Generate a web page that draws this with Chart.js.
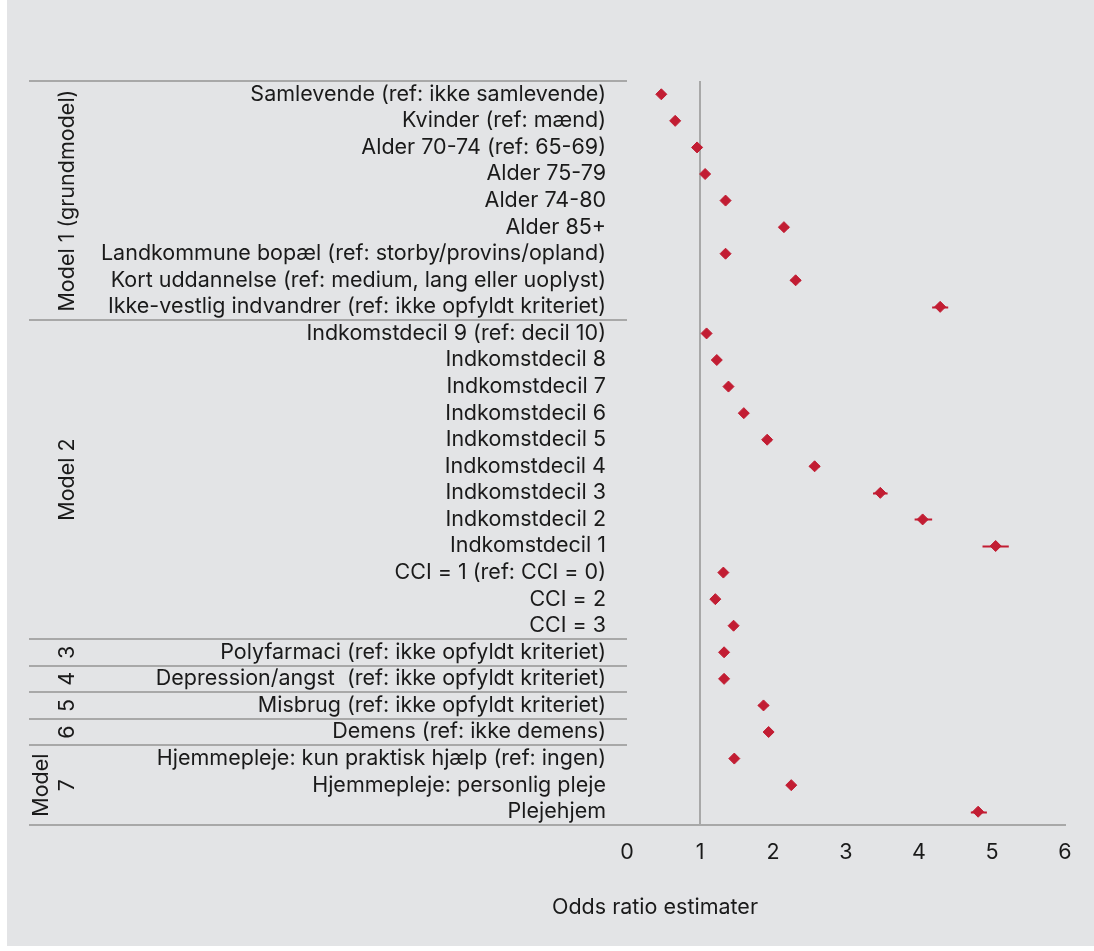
<!DOCTYPE html>
<html>
<head>
<meta charset="utf-8">
<script src="https://cdn.jsdelivr.net/npm/chart.js@4/dist/chart.umd.min.js"></script>
<style>
  html, body { margin: 0; padding: 0; background: #ffffff; }
  #wrap { position: absolute; left: 0; top: 0; width: 1094px; height: 951px; }
</style>
</head>
<body>
<div id="wrap"><canvas id="forest" width="1094" height="951"></canvas></div>
<script>
// Rows of the forest plot, top to bottom
const categories = [
  'Samlevende (ref: ikke samlevende)',
  'Kvinder (ref: mænd)',
  'Alder 70-74 (ref: 65-69)',
  'Alder 75-79',
  'Alder 74-80',
  'Alder 85+',
  'Landkommune bopæl (ref: storby/provins/opland)',
  'Kort uddannelse (ref: medium, lang eller uoplyst)',
  'Ikke-vestlig indvandrer (ref: ikke opfyldt kriteriet)',
  'Indkomstdecil 9 (ref: decil 10)',
  'Indkomstdecil 8',
  'Indkomstdecil 7',
  'Indkomstdecil 6',
  'Indkomstdecil 5',
  'Indkomstdecil 4',
  'Indkomstdecil 3',
  'Indkomstdecil 2',
  'Indkomstdecil 1',
  'CCI = 1 (ref: CCI = 0)',
  'CCI = 2',
  'CCI = 3',
  'Polyfarmaci (ref: ikke opfyldt kriteriet)',
  'Depression/angst  (ref: ikke opfyldt kriteriet)',
  'Misbrug (ref: ikke opfyldt kriteriet)',
  'Demens (ref: ikke demens)',
  'Hjemmepleje: kun praktisk hjælp (ref: ingen)',
  'Hjemmepleje: personlig pleje',
  'Plejehjem'
];

// Odds ratio estimates and 95% confidence limits
const estimates = [0.47, 0.66, 0.96, 1.07, 1.35, 2.15, 1.35, 2.31, 4.29,
                   1.09, 1.23, 1.39, 1.60, 1.92, 2.57, 3.47, 4.05, 5.05,
                   1.32, 1.21, 1.46, 1.33, 1.33, 1.87, 1.94, 1.47, 2.25, 4.81];
const lowerCI   = [0.44, 0.62, 0.89, 1.02, 1.30, 2.08, 1.30, 2.24, 4.18,
                   1.05, 1.18, 1.34, 1.55, 1.86, 2.50, 3.37, 3.94, 4.87,
                   1.28, 1.17, 1.41, 1.29, 1.28, 1.80, 1.88, 1.43, 2.19, 4.71];
const upperCI   = [0.50, 0.70, 1.03, 1.12, 1.40, 2.22, 1.40, 2.38, 4.40,
                   1.13, 1.28, 1.44, 1.65, 1.98, 2.64, 3.57, 4.18, 5.23,
                   1.36, 1.25, 1.51, 1.37, 1.38, 1.94, 2.00, 1.51, 2.31, 4.93];

// Model groupings shown at the left (first and last row index of each block)
const groupNames = [['Model 1 (grundmodel)'], ['Model 2'], ['3'], ['4'], ['5'], ['6'], ['Model', '7']];
const groupFirst = [0, 9, 21, 22, 23, 24, 25];
const groupLast  = [8, 20, 21, 22, 23, 24, 27];

const xTicks = [0, 1, 2, 3, 4, 5, 6];
const xTitle = 'Odds ratio estimater';

const FONT = 'Inter';
const SIZE = 21.5;
const TEXT = '#1a1a1a';
const RED = '#c21d33';
const RULE = '#a8a8a8';

const background = {
  id: 'background',
  beforeDraw(chart) {
    const ctx = chart.ctx;
    ctx.save();
    ctx.fillStyle = '#ffffff';
    ctx.fillRect(0, 0, chart.width, chart.height);
    ctx.fillStyle = '#e3e4e6';
    ctx.fillRect(7, 0, chart.width - 7, 946);
    ctx.restore();
  }
};

// Reference line at OR = 1 and the confidence interval whiskers
const underlay = {
  id: 'underlay',
  beforeDatasetsDraw(chart) {
    const ctx = chart.ctx;
    const xs = chart.scales.x, ys = chart.scales.y;
    const area = chart.chartArea;
    ctx.save();
    ctx.strokeStyle = RULE;
    ctx.lineWidth = 2;
    const x1 = Math.round(xs.getPixelForValue(1));
    ctx.beginPath();
    ctx.moveTo(x1, area.top);
    ctx.lineTo(x1, area.bottom);
    ctx.stroke();

    ctx.strokeStyle = RED;
    ctx.lineWidth = 2;
    categories.forEach((c, i) => {
      const y = Math.round(ys.getPixelForValue(i)) + 0.5;
      ctx.beginPath();
      ctx.moveTo(xs.getPixelForValue(lowerCI[i]), y);
      ctx.lineTo(xs.getPixelForValue(upperCI[i]), y);
      ctx.stroke();
    });
    ctx.restore();
  }
};

// Group separators, group captions and the x-axis title
const overlay = {
  id: 'overlay',
  afterDraw(chart) {
    const ctx = chart.ctx;
    const ys = chart.scales.y;
    const area = chart.chartArea;
    const band = ys.getPixelForValue(1) - ys.getPixelForValue(0);
    ctx.save();
    ctx.strokeStyle = RULE;
    ctx.lineWidth = 2;
    const bounds = groupFirst.map(f => ys.getPixelForValue(f) - band / 2);
    bounds.push(ys.getPixelForValue(groupLast[groupLast.length - 1]) + band / 2);
    bounds.forEach(b => {
      const y = Math.round(b);
      ctx.beginPath();
      ctx.moveTo(29, y);
      ctx.lineTo(area.left, y);
      ctx.stroke();
    });

    ctx.fillStyle = TEXT;
    ctx.font = SIZE + 'px ' + FONT;
    ctx.textAlign = 'center';
    ctx.textBaseline = 'middle';
    groupNames.forEach((lines, g) => {
      const cy = (ys.getPixelForValue(groupFirst[g]) + ys.getPixelForValue(groupLast[g])) / 2;
      lines.forEach((ln, k) => {
        const cx = 68 - 26 * (lines.length - 1 - k);
        ctx.save();
        ctx.translate(cx, cy);
        ctx.rotate(-Math.PI / 2);
        ctx.fillText(ln, 0, 0);
        ctx.restore();
      });
    });

    ctx.fillText(xTitle, 655, 908);
    ctx.restore();
  }
};

new Chart(document.getElementById('forest'), {
  type: 'scatter',
  data: {
    labels: categories,
    datasets: [{
      data: categories.map((c, i) => ({ x: estimates[i], y: c })),
      pointStyle: 'rectRot',
      pointRadius: 5.5,
      pointBorderWidth: 1,
      backgroundColor: RED,
      borderColor: RED
    }]
  },
  options: {
    responsive: false,
    animation: false,
    devicePixelRatio: 1,
    layout: { padding: { top: 81, right: 29, left: 0, bottom: 0 } },
    plugins: { legend: { display: false }, tooltip: { enabled: false } },
    scales: {
      x: {
        type: 'linear',
        min: 0,
        max: 6,
        afterBuildTicks(scale) { scale.ticks = xTicks.map(v => ({ value: v })); },
        afterFit(scale) { scale.height = 126; },
        grid: { display: false, drawTicks: false },
        border: { display: true, color: RULE, width: 2 },
        ticks: { color: TEXT, font: { family: FONT, size: SIZE }, padding: 15 }
      },
      y: {
        type: 'category',
        labels: categories,
        offset: true,
        afterFit(scale) { scale.width = 627; },
        grid: { display: false, drawTicks: false },
        border: { display: false },
        ticks: { color: TEXT, font: { family: FONT, size: SIZE }, padding: 21, autoSkip: false }
      }
    }
  },
  plugins: [background, underlay, overlay]
});
</script>
</body>
</html>
